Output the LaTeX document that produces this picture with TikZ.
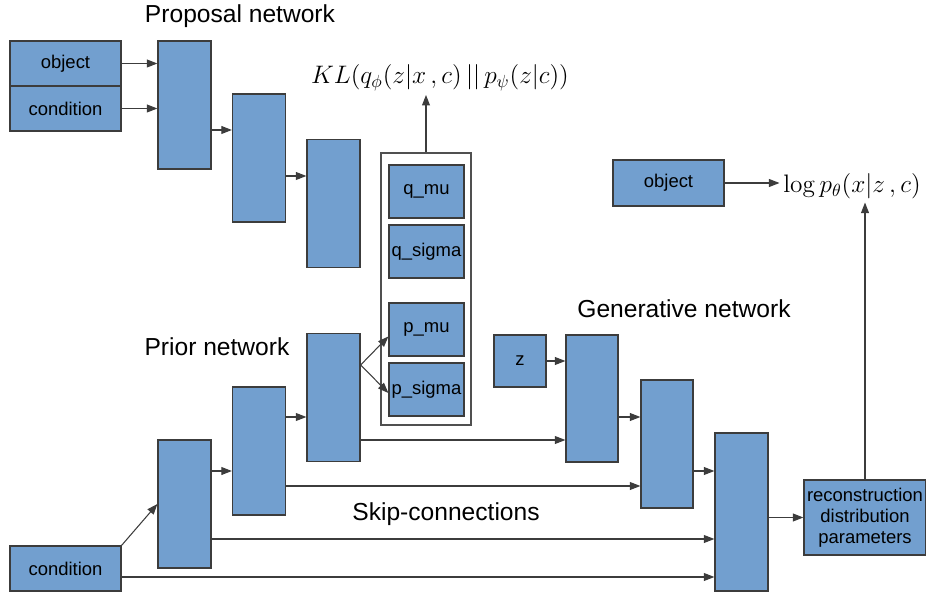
\documentclass[tikz,border=0pt]{standalone}
\usepackage[no-math]{fontspec}
\setmainfont{Liberation Sans}
\usepackage{tikz}
\usetikzlibrary{arrows.meta}
\definecolor{boxblue}{RGB}{114,159,207}
\definecolor{edgegray}{RGB}{60,60,60}

\tikzset{
  blk/.style = {draw=edgegray, fill=boxblue, line width=0.7pt, inner sep=0pt,
                minimum width=1.06cm, minimum height=2.56cm},
  inbox/.style = {blk, minimum width=2.22cm, minimum height=0.9cm,
                  font=\fontsize{10.5}{12}\selectfont},
  distbox/.style = {blk, minimum width=1.5cm, minimum height=1.06cm,
                    font=\fontsize{10.5}{12}\selectfont},
  title/.style = {font=\fontsize{14}{16}\selectfont},
  formula/.style = {font=\fontsize{14}{16}\selectfont, inner sep=2pt},
  conn/.style = {->, draw=edgegray, line width=0.6pt}
}

\begin{document}
\begin{tikzpicture}[x=0.02cm, y=-0.02cm, >={Triangle[length=6pt,width=4.5pt]}]
        \useasboundingbox (0,0) rectangle (926,594);

        % proposal network
        \node[title] (proptitle) at (240,16) {Proposal network};
        \node[inbox] (obj) at (65.5,63.5) {object};
        \node[inbox] (cond) at (65.5,108.5) {condition};
        \node[blk] (p1) at (184.5,105) {};
        \node[blk] (p2) at (259,158) {};
        \node[blk] (p3) at (333.5,203.5) {};
        \draw[conn] (obj.east) -- (obj.east -| p1.west);
        \draw[conn] (cond.east) -- (cond.east -| p1.west);
        \draw[conn] (p1.east |- 0,130) -- (p2.west |- 0,130);
        \draw[conn] (p2.east |- 0,176) -- (p3.west |- 0,176);

        % latent distributions
        \node[draw=edgegray!90, line width=1.1pt, fill=white, minimum width=1.8cm,
              minimum height=5.44cm, inner sep=0pt] (grp) at (426,289) {};
        \node[distbox] (qmu) at (426.5,191.5) {q\_mu};
        \node[distbox] (qsig) at (426.5,251.5) {q\_sigma};
        \node[distbox] (pmu) at (426.5,329.5) {p\_mu};
        \node[distbox] (psig) at (426.5,389.5) {p\_sigma};
        \node[formula] (kl) at (440,78) {$KL\bigl(q_\phi(z|x\,,c)\,||\,p_\psi(z|c)\bigr)$};
        \draw[conn] (grp.north) -- (grp.north |- kl.south);

        % prior network
        \node[title] (priortitle) at (217,347) {Prior network};
        \node[inbox] (cond2) at (65.5,568.5) {condition};
        \node[blk] (r1) at (184.5,504) {};
        \node[blk] (r2) at (259,451) {};
        \node[blk] (r3) at (333.5,397.5) {};
        \draw[conn] (cond2.north east) -- (r1.west);
        \draw[conn] (r1.east |- 0,471) -- (r2.west |- 0,471);
        \draw[conn] (r2.east |- 0,417) -- (r3.west |- 0,417);
        \draw[conn] (r3.east |- 0,365) -- ([yshift=-0.14cm]pmu.west);
        \draw[conn] (r3.east |- 0,365) -- ([yshift=-0.07cm]psig.west);

        % generative network
        \node[title] (gentitle) at (684,309) {Generative network};
        \node[blk, minimum width=1.04cm, minimum height=1.04cm] (z) at (520,361) {\fontsize{10.5}{12}\selectfont z};
        \node[blk, minimum width=1.04cm, minimum height=2.54cm] (g1) at (592,398.5) {};
        \node[blk, minimum width=1.04cm] (g2) at (667,444) {};
        \node[blk, minimum height=3.16cm] (g3) at (741.5,512) {};
        \node[blk, minimum width=2.44cm, minimum height=1.5cm, align=center,
              font=\fontsize{10.5}{12}\selectfont] (rec) at (865,517.5)
              {reconstruction\\distribution\\parameters};
        \node[inbox, minimum height=0.92cm] (obj2) at (668.5,183) {object};
        \node[formula] (logp) at (852,186) {$\log p_\theta(x|z\,,c)$};
        \draw[conn] (z.east) -- (z.east -| g1.west);
        \draw[conn] (g1.east |- 0,417) -- (g2.west |- 0,417);
        \draw[conn] (g2.east |- 0,471) -- (g3.west |- 0,471);
        \draw[conn] (g3.east |- rec.west) -- (rec.west);
        \draw[conn] (rec.north) -- (rec.north |- logp.south);
        \draw[conn] (obj2.east) -- (obj2.east -| logp.west);

        % skip-connections
        \node[title] (skiptitle) at (446,514) {Skip-connections};
        \draw[conn] (r3.east |- 0,440) -- (g1.west |- 0,440);
        \draw[conn] (r2.east |- 0,486) -- (g2.west |- 0,486);
        \draw[conn] (r1.east |- 0,539) -- (g3.west |- 0,539);
        \draw[conn] (cond2.east |- 0,577) -- (g3.west |- 0,577);
    \end{tikzpicture}
\end{document}
